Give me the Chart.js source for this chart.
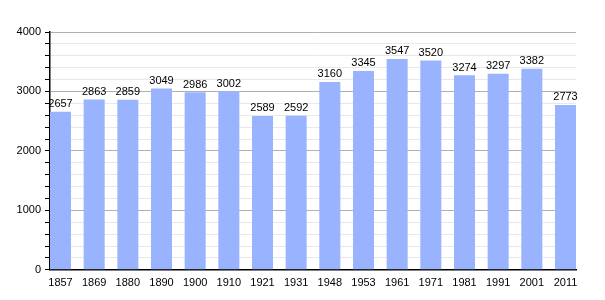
<!DOCTYPE html>
<html>
<head>
<meta charset="utf-8">
<script src="https://cdn.jsdelivr.net/npm/chart.js@4"></script>
<style>
  body { margin: 0; background: #fff; }
  #wrap { width: 605px; height: 300px; }
</style>
</head>
<body>
<div id="wrap"><canvas id="myChart"></canvas></div>
<script>
const years = ['1857', '1869', '1880', '1890', '1900', '1910', '1921', '1931', '1948', '1953', '1961', '1971', '1981', '1991', '2001', '2011']
const population = [2657, 2863, 2859, 3049, 2986, 3002, 2589, 2592, 3160, 3345, 3547, 3520, 3274, 3297, 3382, 2773]
const yMax = 4000
const barFrac = 0.624
const edge = barFrac / 2

// labels drawn above each bar
const barLabels = {
  id: 'barLabels',
  afterDatasetsDraw(chart) {
    const ctx = chart.ctx
    const meta = chart.getDatasetMeta(0)
    ctx.save()
    ctx.font = '11px "Liberation Sans", Arial, sans-serif'
    ctx.fillStyle = '#000'
    ctx.textAlign = 'center'
    ctx.textBaseline = 'bottom'
    meta.data.forEach((bar, i) => {
      ctx.fillText(String(population[i]), bar.x, bar.y - 2)
    })
    ctx.restore()
  }
}

const points = population.map((v, i) => ({ x: i, y: v }))

const config = {
  type: 'bar',
  data: {
    datasets: [{
      data: points,
      backgroundColor: '#99b3ff',
      categoryPercentage: 1,
      barPercentage: barFrac
    }]
  },
  options: {
    responsive: true,
    maintainAspectRatio: false,
    animation: false,
    layout: { padding: { top: 32, right: 29, left: 0, bottom: 3 } },
    plugins: { legend: { display: false }, tooltip: { enabled: false } },
    scales: {
      x: {
        type: 'linear',
        min: -edge,
        max: years.length - 1 + edge,
        offset: false,
        grid: { display: false, drawTicks: false },
        border: { color: '#000', width: 1.5 },
        ticks: {
          stepSize: 1,
          includeBounds: false,
          autoSkip: false,
          maxRotation: 0,
          color: '#000',
          padding: 7,
          font: { size: 11, family: '"Liberation Sans", Arial, sans-serif' },
          callback: v => Number.isInteger(v) ? years[v] : ''
        }
      },
      y: {
        min: 0,
        max: yMax,
        afterFit(scale) { scale.width = 50 },
        grid: {
          color: ctx => ctx.tick && ctx.tick.value % 1000 === 0 ? '#b0b0b0' : '#e8e8e8',
          tickColor: '#000',
          tickLength: 5
        },
        border: { color: '#000', width: 1.5 },
        ticks: {
          stepSize: 200,
          autoSkip: false,
          color: '#000',
          padding: 4,
          font: { size: 11, family: '"Liberation Sans", Arial, sans-serif' },
          callback: v => v % 1000 === 0 ? v : ''
        }
      }
    }
  },
  plugins: [barLabels]
}

new Chart(document.getElementById('myChart'), config)
</script>
</body>
</html>
